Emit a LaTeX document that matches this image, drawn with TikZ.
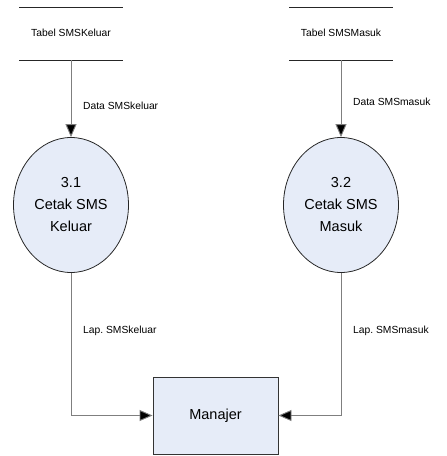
\documentclass[tikz,border=0pt]{standalone}
\usepackage{fontspec}
\setmainfont{Liberation Sans}
\usetikzlibrary{arrows.meta,shapes.geometric}
\frenchspacing
\definecolor{procfill}{HTML}{E6ECF8}
\definecolor{flowgray}{HTML}{7F7F7F}
\tikzset{
  process/.style={ellipse, draw=black!85, line width=0.8pt, fill=procfill,
    minimum width=115pt, minimum height=135pt, inner sep=0pt,
    align=center, font=\fontsize{14.5}{22}\selectfont},
  entity/.style={rectangle, draw=black!80, line width=0.9pt, fill=procfill,
    minimum width=125pt, minimum height=77pt, inner sep=0pt,
    font=\fontsize{14.5}{17}\selectfont},
  storeline/.style={line width=0.9pt, black!85},
  storetext/.style={font=\fontsize{10.3}{12}\selectfont, inner sep=0pt},
  flow/.style={draw=flowgray, line width=0.9pt,
    -{Triangle[length=13pt,width=11pt,fill=black]}},
  flowlabel/.style={font=\fontsize{10.3}{12}\selectfont, anchor=west, inner sep=0pt},
}
\begin{document}
\begin{tikzpicture}[x=1pt,y=-1pt]
  \useasboundingbox (0,0) rectangle (447,456);

  % data stores
  \draw[storeline] (19,7) -- (123,7);
  \draw[storeline] (19,60) -- (123,60);
  \node[storetext] (tk) at (71,33) {Tabel SMSKeluar};
  \coordinate (tkb) at (71,60);

  \draw[storeline] (289,7) -- (393,7);
  \draw[storeline] (289,60) -- (393,60);
  \node[storetext] (tm) at (341,33) {Tabel SMSMasuk};
  \coordinate (tmb) at (341,60);

  % processes
  \node[process] (p1) at (71,205) {3.1\\Cetak SMS\\Keluar};
  \node[process] (p2) at (341,205) {3.2\\Cetak SMS\\Masuk};

  % external entity
  \node[entity] (mgr) at (215.5,415.5) {Manajer};

  % flows
  \draw[flow] (tkb) -- (p1.north);
  \draw[flow] (tmb) -- (p2.north);
  \draw[flow] (p1.south) |- (mgr.west);
  \draw[flow] (p2.south) |- (mgr.east);

  % flow labels
  \node[flowlabel] (l1) at (83,106) {Data SMSkeluar};
  \node[flowlabel] (l2) at (353,102) {Data SMSmasuk};
  \node[flowlabel] (l3) at (83,331) {Lap. SMSkeluar};
  \node[flowlabel] (l4) at (353,331) {Lap. SMSmasuk};
\end{tikzpicture}
\end{document}
